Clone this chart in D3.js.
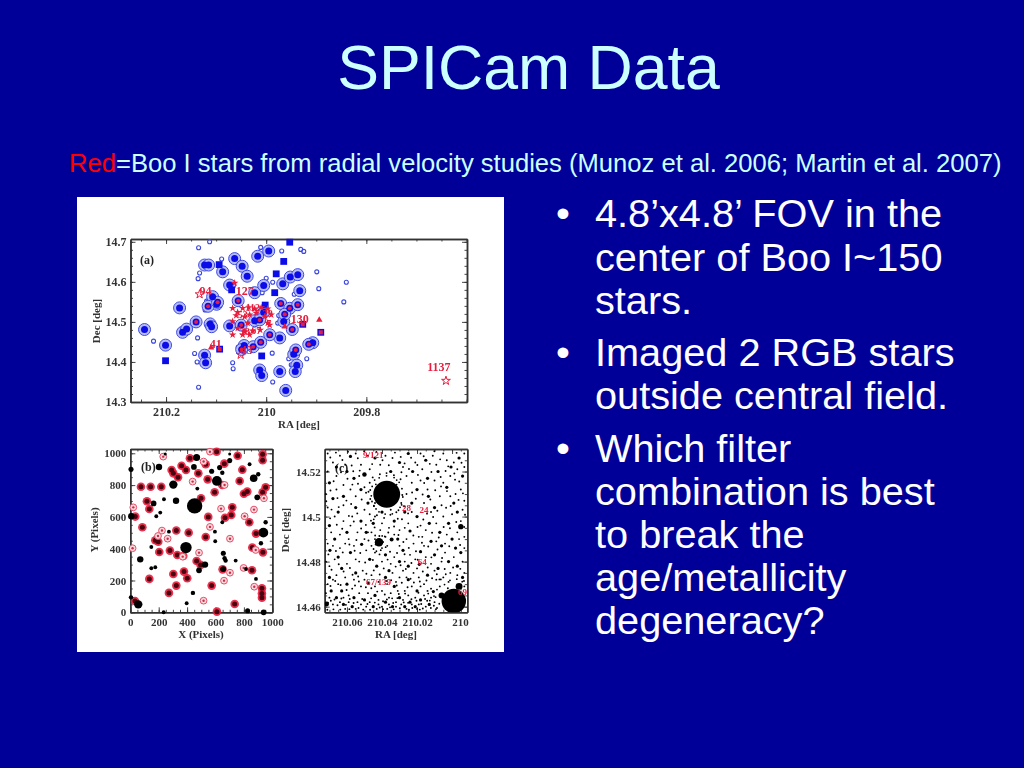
<!DOCTYPE html>
<html><head><meta charset="utf-8">
<script src="https://cdn.jsdelivr.net/npm/d3@7/dist/d3.min.js"></script>
<style>html,body{margin:0;padding:0;background:#000099;overflow:hidden}svg{display:block}</style>
</head><body>
<script>
const titleText = "SPICam Data";
const subtitleRed = "Red";
const subtitleRest = "=Boo I stars from radial velocity studies (Munoz et al. 2006; Martin et al. 2007)";
const bulletLines = [
 ["4.8’x4.8’ FOV in the","center of Boo I~150","stars."],
 ["Imaged 2 RGB stars","outside central field."],
 ["Which filter","combination is best","to break the","age/metallicity","degeneracy?"]
];
// Panel (a): [RA, Dec]
const aTickX = [210.2,210,209.8], aTickY = [14.3,14.4,14.5,14.6,14.7];
const aBlue = [[210.243,14.481],[210.201,14.442],[210.173,14.535],[210.167,14.474],[210.159,14.482],[210.123,14.417],[210.121,14.398],[210.123,14.642],[210.115,14.642],[210.087,14.625],[210.107,14.563],[210.099,14.544],[210.112,14.495],[210.109,14.488],[210.073,14.592],[210.073,14.49],[210.063,14.658],[210.048,14.639],[210.038,14.614],[210.023,14.573],[210.017,14.664],[209.995,14.677],[210.005,14.591],[209.967,14.595],[209.952,14.612],[209.937,14.618],[209.933,14.578],[209.965,14.501],[209.907,14.448],[209.945,14.419],[209.939,14.392],[209.942,14.376],[209.973,14.376],[209.961,14.329],[210.013,14.38],[210.009,14.366],[210.044,14.441],[209.973,14.46],[210.023,14.503],[210.005,14.524]];
const aMember = [[210.14,14.5],[210.116,14.539],[210.097,14.549],[210.056,14.553],[209.971,14.546],[209.953,14.534],[209.937,14.543],[209.963,14.519],[209.948,14.481],[209.915,14.444],[209.941,14.43],[210.049,14.431],[210.026,14.438],[210.011,14.449],[209.993,14.468],[210.05,14.492],[210.013,14.505]];
const aSquare = [[210.094,14.643],[209.983,14.573],[209.98,14.62],[209.965,14.651],[209.953,14.699],[210.009,14.415],[210.002,14.542],[210.201,14.403],[210.069,14.58]];
const aSquareMember = [[209.927,14.494],[209.891,14.474],[210.093,14.432]];
const aFaint = [[210.225,14.452],[210.137,14.46],[210.143,14.421],[210.138,14.4],[210.135,14.337],[210.135,14.685],[210.113,14.7],[210.089,14.657],[210.133,14.622],[210.136,14.608],[210.067,14.398],[210.066,14.383],[210.056,14.437],[209.987,14.35],[209.988,14.422],[209.955,14.408],[209.95,14.393],[209.919,14.408],[209.895,14.583],[209.899,14.625],[209.84,14.599],[209.845,14.55],[210.011,14.686],[209.969,14.677],[209.931,14.681],[209.925,14.676],[210,14.609],[209.987,14.599],[210.008,14.573],[209.944,14.569],[210.119,14.552],[210.122,14.53],[209.975,14.516],[209.977,14.497]];
const aRedStars = [[210.063,14.597],[210.067,14.534],[210.057,14.524],[210.047,14.534],[210.035,14.536],[210.023,14.533],[210.01,14.536],[209.997,14.533],[209.99,14.518],[210.06,14.516],[210.043,14.513],[210.033,14.518],[210.02,14.522],[210.003,14.513],[209.997,14.497],[210.067,14.501],[210.057,14.484],[210.043,14.476],[210.027,14.478],[210.012,14.48],[210.067,14.468],[210.047,14.468],[210.033,14.468],[209.993,14.492],[210.037,14.497]];
const aRedTriangles = [[209.894,14.505],[210.11,14.436],[209.963,14.488]];
const aOpenStars = [[209.641,14.353],[210.133,14.569],[210.051,14.418]];
const aLabels = [["94",210.121,14.576],["127",210.043,14.576],["130",209.933,14.507],["41",210.101,14.444],["43",210.039,14.428],["1137",209.655,14.387]];
const aSmallLabels = [["112",210.027,14.534],["29",209.997,14.519],["53",210.047,14.518],["67",210.02,14.478],["38",210.043,14.476],["7",209.995,14.495]];
// Panel (b): [X, Y] in pixels of the CCD, third value = flux
const bTickX = [0,200,400,600,800,1000], bTickY = [0,200,400,600,800,1000];
const bBlack = [[453,669,56],[392,407,30],[937,501,22],[56,50,16],[467,973,11],[303,803,16],[610,826,22],[869,843,13],[526,300,9],[70,333,9],[322,702,9],[164,685,7],[5,899,5.5],[202,914,9],[7,604,9],[448,914,7],[573,887,5.5],[629,910,5.5],[700,954,5.5],[700,996,1.7],[648,878,4],[840,931,3],[901,868,4],[894,723,7],[472,778,3],[237,711,3],[183,604,3],[211,627,3],[272,507,3],[148,411,3],[148,277,3],[176,283,3],[596,507,3],[598,447,3],[648,566,3],[655,371,5.5],[664,340,4],[671,325,4],[742,325,3],[815,272,3],[885,210,3],[953,566,4],[920,434,4],[441,122,4],[397,57,3],[235,0,3],[5,94,4],[826,10,5.5],[939,0,7],[484,264,7],[655,272,7],[246,996,1.7]];
const bMembers = [[75,790],[143,790],[218,790],[117,698],[134,650],[35,602],[85,535],[176,453],[197,444],[204,379],[279,388],[324,514],[411,501],[331,360],[373,354],[303,241],[324,168],[272,122],[134,210],[378,256],[401,214],[467,323],[495,298],[573,168],[531,474],[549,600],[498,717],[420,969],[361,922],[392,895],[291,895],[303,874],[336,849],[479,874],[531,931],[545,836],[594,755],[648,801],[662,935],[756,985],[789,897],[770,826],[800,746],[824,759],[932,994],[932,956],[953,786],[932,755],[718,660],[711,612],[667,595],[838,566],[885,495],[859,407],[934,377],[857,264],[927,151],[927,119],[927,92],[735,52],[610,4],[650,270],[33,71],[608,1010]];
const bOpenRings = [[232,979],[439,822],[21,660],[223,514],[195,480],[263,463],[561,537],[639,652],[871,646],[805,604],[702,463],[484,375],[883,392],[798,279],[702,249],[660,199],[873,161],[516,73],[941,717],[664,801],[16,403],[369,350],[561,1010],[516,948]];
// Panel (c): [mdeg east of RA 210, mdeg north of Dec 14.46], third value = flux
const cTickX = [210.06,210.04,210.02,210], cTickY = [14.46,14.48,14.5,14.52];
const cBlobs = [[37.3,49.9,180],[-1,2.5,150],[41.7,28.6,18],[-5,35.5,7],[50,58.7,5],[34.5,29.8,4],[71.6,1.2,6],[6,5,9],[-4,9,12]];
const cMid = [[62,49],[56,57],[22.5,60],[0.6,62],[13.5,49],[24,33.6],[30,20],[18,24.4],[18.7,18.8],[6,27],[10.7,6.7],[51.6,27.7],[69.7,25],[47.8,10.4],[58,66.7],[66,62],[70,55],[60,60],[44,66],[30,64],[25,68],[15,65],[8,60],[-4,66],[-6,58],[3,53],[-1,46],[20,52],[10,44],[-3,42],[2,37],[13,37],[20,40],[27,42],[33,38],[45,37],[55,44],[65,42],[70,36],[60,33],[52,38],[48,46],[68,48],[58,24],[63,17],[70,13],[60,10],[55,15],[43,18],[38,13],[33,9],[25,12],[20,7],[14,14],[8,17],[2,20],[-3,18],[-5,24],[0,30],[12,29],[28,25],[38,23],[47,21],[56,4],[50,3],[44,5],[38,2],[30,4],[24,2],[18,3],[13,1],[66,4],[62,1],[57,0],[69,7],[63,7],[45,0],[34,0],[27,0],[21,0],[67,30],[40,42],[23,46],[7,33],[-6,13],[-2,26],[14,57],[35,60],[52,52],[65,22],[49,33],[36,16],[25,18],[31,30],[10,23]];
const cFaint = [[71,68],[68,64],[64,67],[61,63],[55,68],[52,63],[48,67],[47,61],[41,63],[38,67],[34,66],[28,62],[26,58],[21,64],[18,68],[17,61],[11,67],[9,63],[5,68],[3,65],[-1,64],[-3,61],[-7,68],[-7,62],[1,58],[5,55],[10,56],[14,52],[18,56],[23,55],[26,50],[-5,52],[-7,47],[-2,50],[7,49],[16,46],[23,42],[29,46],[25,37],[30,34],[36,35],[40,37],[44,40],[41,34],[47,41],[50,43],[57,40],[62,38],[67,40],[71,44],[72,50],[66,52],[62,54],[58,52],[53,58],[50,53],[47,55],[66,58],[71,60],[62,45],[55,49],[58,36],[54,33],[50,30],[46,27],[37,27],[30,27],[26,30],[22,28],[17,31],[15,34],[9,37],[5,40],[0,41],[-5,38],[-7,31],[-3,33],[3,32],[9,29],[4,24],[-1,22],[-6,20],[-7,15],[-3,14],[1,15],[5,13],[9,12],[12,19],[15,22],[21,21],[24,23],[27,20],[33,22],[35,19],[40,20],[44,24],[49,25],[53,20],[56,27],[61,28],[64,32],[69,33],[71,28],[67,21],[72,20],[60,19],[55,21],[51,16],[46,14],[42,11],[39,17],[34,15],[30,13],[28,16],[22,15],[19,13],[16,10],[12,8],[7,9],[2,11],[23,9],[27,7],[31,7],[35,6],[40,7],[44,9],[52,9],[57,8],[61,13],[66,14],[70,18],[65,10],[71,10],[68,12],[62,4],[59,5],[53,6],[48,6],[42,3],[36,4],[32,2],[28,3],[25,5],[21,4],[16,5],[12,4],[15,0],[19,1],[23,1],[26,-1],[29,1],[32,0],[36,1],[40,0],[42,1],[47,2],[49,0],[52,1],[54,2],[59,2],[64,2],[68,1],[70,4],[72,6],[61,-1],[55,-1],[43,-1],[37,-1],[20,-1],[44,46],[41,47],[48,33],[35,43],[31,39],[18,36],[12,42],[6,45],[-6,43],[1,49],[16,27],[19,31],[4,28],[-4,30],[-7,26],[27,35],[38,31],[44,30],[33,32],[40,26],[46,33],[59,30],[64,26],[68,27],[56,12],[50,12],[37,10],[32,11],[26,13],[20,17],[10,16],[6,20],[0,6],[-7,9],[10,2],[14,7],[18,9]];
const cFaintMore = [[69.5,66.2],[66.3,68.4],[62.6,65.1],[59.4,68.8],[57.3,62.7],[53.8,65.9],[50.2,69],[45.6,63.3],[43.2,68.7],[39.7,65],[36.1,62.8],[32.6,68.4],[29.3,66.5],[27.1,63.6],[23.4,66.1],[19.8,62.9],[16.2,66.8],[12.7,63.4],[10.1,69],[6.8,65.4],[2.2,62.3],[-2.6,68.3],[-5.4,63.9],[-1.3,59.1],[3.7,60.2],[6.5,57.6],[11.8,59.8],[15.9,54.9],[19.5,58.5],[24.6,61.1],[29.4,56.6],[31.7,54.2],[28.4,49.6],[27.4,44.6],[25.1,41.4],[28.6,38.8],[31.8,41.9],[35.2,40.8],[38.8,39.4],[42.9,40.6],[46.3,38.2],[49.2,36.3],[44.2,35.2],[41.5,31.4],[36.4,32.9],[33.1,35.6],[30.6,31.8],[27.8,28.7],[24.7,26.1],[22.1,31.6],[19.7,35.4],[16.4,38.7],[14.3,41.3],[10.8,39.8],[8.4,42.6],[3.4,43.9],[0.8,44.7],[-3.7,47.4],[-6.2,50.3],[-4.1,55.6],[-1.7,56.4],[2.9,51.3],[6.3,53.4],[9.6,51.7],[12.4,47.6],[16.8,49.8],[20.7,47.9],[22.8,50.7],[52.7,60.4],[56.4,60.1],[59.7,56.8],[63.4,59.7],[67.6,55.7],[69.4,51.6],[71.8,46.8],[65.4,48.2],[60.3,47.1],[57.6,45.6],[54.1,41.4],[51.6,47.6],[49.1,50.6],[46.7,51.8],[53.7,54.6],[56.9,54.2],[64.7,44.2],[68.8,43.1],[69.6,39.2],[65.8,36.4],[62.7,34.6],[58.9,40.3],[56.1,37.8],[54.6,29.6],[51.9,34.7],[47.7,29.4],[43.6,27.6],[39.4,28.7],[35.4,24.4],[31.4,23.8],[27.1,23.3],[23.2,19.4],[20.6,24.6],[17.2,28.4],[13.6,26.7],[11.4,32.8],[7.6,30.7],[4.8,35.4],[1.2,34.8],[-2.4,37.6],[-6.9,35.4],[-7.4,40.8],[-4.6,27.4],[1.6,26.8],[5.7,21.6],[8.3,25.4],[11.8,21.9],[13.9,17.4],[16.7,15.6],[19.6,20.8],[23.7,12.4],[26.4,16.7],[29.4,18.4],[32.2,17.8],[36.8,20.9],[41.4,23.2],[45.2,20.7],[49.6,19.6],[52.4,23.8],[55.6,24.8],[58.6,27.6],[62.4,24.1],[66.3,24.7],[70.6,23.2],[68.8,16.4],[64.7,18.8],[61.9,15.6],[58.3,17.2],[56.8,14.2],[53.6,13.4],[48.9,14.6],[44.7,16.1],[41.3,14.3],[37.6,11.4],[34.8,11.7],[31.6,9.4],[28.7,10.6],[25.4,8.6],[21.8,10.7],[18.4,11.2],[14.6,11.6],[11.4,12.6],[8.7,14.4],[4.2,16.7],[-0.6,17.4],[-4.7,16.8],[-6.8,11.4],[2.4,8.2],[7.2,12.1],[69.4,9.2],[66.7,11.4],[63.6,9.6],[60.2,7.4],[55.4,9.4],[53.2,11.2],[49.2,8.6],[46.1,8.2],[42.7,6.7],[38.4,5.4],[34.2,3.7],[30.4,5.6],[26.8,5.8],[23.2,3.3],[19.2,6.2],[15.4,3.4],[13.6,5.8],[10.3,4.7],[70.9,1.8],[69.2,2.6],[67.1,3.2],[65.4,0.6],[63.2,3.6],[60.6,0.8],[58.4,3.4],[56.2,1.6],[53.4,-0.6],[51.3,3.4],[48.3,1.2],[46.2,3.7],[44.1,1.8],[41.3,-0.4],[39.4,2.4],[37.2,3.2],[35.4,-0.3],[33.6,1.6],[31.2,3.8],[29.8,-0.7],[27.6,1.9],[25.1,1.7],[22.7,-0.6],[20.3,2.6],[17.6,1.2],[16.7,-0.8],[14.2,2.6],[12.1,-0.6],[10.4,0.4],[8.6,-0.6],[71.2,-1.4],[67.7,-1.2],[63.8,-1.3],[58.6,-1.1],[50.7,-1.3],[46.8,-1.4],[39.4,-1.1],[33.3,-1.2],[24.6,-1.4],[18.4,-1.3],[44.6,44.8],[46.7,47.8],[47.7,51],[45.3,57.4],[41.2,58.8],[37.4,59.3],[33.2,58.4],[28.9,59.7]];
const cHalo = [[46.1,49.2],[45.6,53.4],[44.2,56.2],[41.6,57.2],[37.4,58.1],[33.1,57.3],[30.2,55.2],[28.6,52.4],[28.1,48.7],[28.8,45.2],[30.6,42.8],[34.1,41.2],[38.2,41.1],[41.7,42.1],[44.6,44.6],[45.7,46.7],[43.5,54.3],[31.6,56.2],[29.7,44.1],[43.4,43.4],[44.7,38.8],[39.9,31.4],[37.9,26.4],[43.9,31.6],[44.8,25.6],[38.4,31.2],[40.7,25.1],[43.2,24.6],[6.4,12.1],[4.3,9.8],[8.6,7.6],[9.4,4.2],[7.3,1.3],[1.2,11.7],[-2.7,12.2],[-5.8,11.1],[3.6,14.4],[12.7,2.7],[9.2,-1.1]];
const cLabelData = [["9/121",45,67.5],["28",26,44],["24",16,43],["64",17,20],["67/139",42,11],["69",-6,6.5]];

// ---------- layout and styles ----------
const W=1024,H=768;
const svg=d3.select("body").append("svg").attr("width",W).attr("height",H).style("background","#000099");
const sans="'Liberation Sans',Arial,sans-serif", serif="'Liberation Serif',serif";
const ink="#333333", BLUE="#0c0ce8", PALE="#b6bdf6", RED="#e81c3c";

svg.append("text").attr("x",528.5).attr("y",88.5).attr("text-anchor","middle").attr("font-family",sans).attr("font-size",62.6).attr("fill","#ccffff").text(titleText);
const sub=svg.append("text").attr("x",69).attr("y",171.5).attr("font-family",sans).attr("font-size",25.6).attr("fill","#ccffff");
sub.append("tspan").attr("fill","#ff0000").text(subtitleRed);
sub.append("tspan").text(subtitleRest);

const lineBase=[[227,271,314],[366,409],[462,505,548,591,634]];
bulletLines.forEach((ls,i)=>{
  svg.append("text").attr("x",556).attr("y",lineBase[i][0]).attr("font-family",sans).attr("font-size",39.7).attr("fill","#fff").text("•");
  ls.forEach((t,j)=>svg.append("text").attr("x",595).attr("y",lineBase[i][j]).attr("font-family",sans).attr("font-size",39.7).attr("fill","#fff").text(t));
});

const defs=svg.append("defs");
defs.append("clipPath").attr("id","clipC").append("rect").attr("x",324.7).attr("y",449).attr("width",142.6).attr("height",163.3);
svg.append("rect").attr("x",77).attr("y",197).attr("width",427).attr("height",455).attr("fill","#fff");
const plate=svg.append("g").style("filter","blur(0.45px)");

function frame(x,y,o){
  const g=plate.append("g");
  const [x0,x1]=x.range(),[y0,y1]=y.range();
  const fs=o.fs||12;
  function axes(vals,size,labels,side){
    const ax=(side==="b"?d3.axisBottom(x):side==="t"?d3.axisTop(x):side==="l"?d3.axisLeft(y):d3.axisRight(y))
      .tickValues(vals).tickSizeOuter(0).tickSizeInner(-size).tickPadding(labels?(side==="b"?o.padX:o.padY):0)
      .tickFormat(labels?(o.fmt||(d=>d)):"");
    const tr=side==="b"?[0,y0]:side==="t"?[0,y1]:side==="l"?[x0,0]:[x1,0];
    const a=g.append("g").attr("transform",`translate(${tr})`).call(ax);
    a.selectAll(".domain").attr("stroke",ink).attr("stroke-width",1.5);
    a.selectAll("line").attr("stroke",ink).attr("stroke-width",0.9);
    a.selectAll("text").attr("font-family",serif).attr("font-size",fs).attr("font-weight","bold").attr("fill",ink);
    if(labels&&side==="b"&&o.lastDx) a.selectAll(".tick").filter(d=>d===vals[vals.length-1]).select("text").attr("dx",o.lastDx);
    return a;
  }
  axes(o.minorX,2.5,false,"b");axes(o.minorX,2.5,false,"t");
  axes(o.minorY,2.5,false,"l");axes(o.minorY,2.5,false,"r");
  axes(o.majorX,5,true,"b");axes(o.majorX,5,false,"t");
  axes(o.majorY,5,true,"l");axes(o.majorY,5,false,"r");
  g.append("text").attr("x",o.xlx).attr("y",o.xly).attr("text-anchor","middle").attr("font-family",serif).attr("font-size",11).attr("font-weight","bold").attr("fill",ink).text(o.xlabel);
  g.append("text").attr("transform",`translate(${o.ylx},${o.yly}) rotate(-90)`).attr("text-anchor","middle").attr("font-family",serif).attr("font-size",11).attr("font-weight","bold").attr("fill",ink).text(o.ylabel);
  g.append("text").attr("x",o.tagx).attr("y",o.tagy).attr("font-family",serif).attr("font-size",12).attr("font-weight","bold").attr("fill","#222").text(o.tag);
  return g;
}
function dots(sel,data,px,py,r,attrs){
  const s=sel.append("g").selectAll("circle").data(data).join("circle")
    .attr("cx",px).attr("cy",py).attr("r",r);
  Object.entries(attrs).forEach(([k,v])=>s.attr(k,v));
  return s;
}
const starPath=d3.symbol().type(d3.symbolStar), triPath=d3.symbol().type(d3.symbolTriangle);

// ---------- panel a ----------
const xA=d3.scaleLinear().domain([210.271,209.599]).range([130.5,467]);
const yA=d3.scaleLinear().domain([14.3,14.707]).range([402,239]);
frame(xA,yA,{majorX:aTickX,minorX:d3.range(209.6,210.26,0.05).map(v=>+v.toFixed(2)),majorY:aTickY,minorY:d3.range(14.3,14.701,0.02).map(v=>+v.toFixed(2)),
  padX:5,padY:4,fmt:d=>d3.format("")(d),xlabel:"RA [deg]",xlx:299,xly:428,ylabel:"Dec [deg]",ylx:100,yly:321,tag:"(a)",tagx:140,tagy:264});
const ga=plate.append("g");
const axp=d=>xA(d[0]),ayp=d=>yA(d[1]);
dots(ga,aFaint,axp,ayp,2,{fill:"#fff","fill-opacity":0,stroke:"#3a45e0","stroke-width":1.1});
dots(ga,aBlue.concat(aMember),axp,ayp,6,{fill:PALE,stroke:"#3f4ae0","stroke-width":1});
dots(ga,aBlue,axp,ayp,3.5,{fill:BLUE});
dots(ga,aMember,axp,ayp,3.5,{fill:BLUE});
ga.append("g").selectAll("rect").data(aSquare.concat(aSquareMember)).join("rect")
  .attr("x",d=>axp(d)-3.4).attr("y",d=>ayp(d)-3.4).attr("width",6.8).attr("height",6.8).attr("fill",BLUE);
dots(ga,aMember,axp,ayp,2,{fill:RED});
ga.append("g").selectAll("rect").data(aSquareMember).join("rect")
  .attr("x",d=>axp(d)-2).attr("y",d=>ayp(d)-2).attr("width",4).attr("height",4).attr("fill",RED);
ga.append("g").selectAll("path.s").data(aRedStars).join("path")
  .attr("transform",d=>`translate(${axp(d)},${ayp(d)})`).attr("d",starPath.size(18)()).attr("fill",RED);
ga.append("g").selectAll("path.t").data(aRedTriangles).join("path")
  .attr("transform",d=>`translate(${axp(d)},${ayp(d)})`).attr("d",triPath.size(18)()).attr("fill",RED);
ga.append("g").selectAll("path.o").data(aOpenStars).join("path")
  .attr("transform",d=>`translate(${axp(d)},${ayp(d)})`).attr("d",starPath.size(24)()).attr("fill","none").attr("stroke",RED).attr("stroke-width",1);
ga.append("g").selectAll("text").data(aLabels).join("text")
  .attr("x",d=>xA(d[1])).attr("y",d=>yA(d[2])+3.5).attr("text-anchor","middle").attr("font-family",serif).attr("font-weight","bold").attr("font-size",12).attr("fill",RED).text(d=>d[0]);
ga.append("g").selectAll("text").data(aSmallLabels).join("text")
  .attr("x",d=>xA(d[1])).attr("y",d=>yA(d[2])+3).attr("text-anchor","middle").attr("font-family",serif).attr("font-weight","bold").attr("font-size",10).attr("fill",RED).text(d=>d[0]);

// ---------- panel b ----------
const xB=d3.scaleLinear().domain([0,1000]).range([130.3,272.3]);
const yB=d3.scaleLinear().domain([0,1027]).range([612.3,449]);
const rB=d3.scaleSqrt().domain([0,100]).range([0,10]);
frame(xB,yB,{majorX:bTickX,minorX:d3.range(0,1001,50),majorY:bTickY,minorY:d3.range(0,1001,50),
  padX:6,padY:4,fs:11,xlabel:"X (Pixels)",xlx:201,xly:638,ylabel:"Y (Pixels)",ylx:98,yly:530,tag:"(b)",tagx:141,tagy:471});
const gb=plate.append("g");
const bxp=d=>xB(d[0]),byp=d=>yB(d[1]);
dots(gb,bMembers,bxp,byp,4.3,{fill:RED,"fill-opacity":0.9});
dots(gb,bMembers,bxp,byp,2.5,{fill:"#4a0410"});
dots(gb,bOpenRings,bxp,byp,3.4,{fill:"#fbd8dc",stroke:"#e2506a","stroke-width":1});
dots(gb,bOpenRings,bxp,byp,1.2,{fill:"#c83048"});
dots(gb,bBlack,bxp,byp,d=>rB(d[2])+0.2,{fill:"#000"});

// ---------- panel c ----------
const xC=d3.scaleLinear().domain([210.0727,209.9913]).range([324.7,467.3]);
const yC=d3.scaleLinear().domain([14.4575,14.53]).range([612.3,449]);
const rC=d3.scaleSqrt().domain([0,100]).range([0,10]);
frame(xC,yC,{majorX:cTickX,minorX:d3.range(209.995,210.071,0.005).map(v=>+v.toFixed(3)),majorY:cTickY,minorY:d3.range(14.46,14.5301,0.005).map(v=>+v.toFixed(3)),
  padX:6,padY:4,fs:11,fmt:d=>d,lastDx:8,xlabel:"RA [deg]",xlx:396,xly:638,ylabel:"Dec [deg]",ylx:289,yly:530,tag:"(c)",tagx:335,tagy:472});
const gc=plate.append("g").attr("clip-path","url(#clipC)");
const cxp=d=>xC(210+d[0]/1000),cyp=d=>yC(14.46+d[1]/1000);
dots(gc,cFaint.concat(cFaintMore),cxp,cyp,0.95,{fill:"#000"});
dots(gc,cHalo,cxp,cyp,0.9,{fill:"#000"});
dots(gc,cMid,cxp,cyp,1.6,{fill:"#000"});
dots(gc,cBlobs,cxp,cyp,d=>rC(d[2]),{fill:"#000"});
gc.append("g").selectAll("text").data(cLabelData).join("text")
  .attr("x",d=>cxp([d[1],d[2]])).attr("y",d=>cyp([d[1],d[2]])+3).attr("text-anchor","middle").attr("font-family",serif).attr("font-weight","bold").attr("font-size",9).attr("fill",RED).text(d=>d[0]);
</script>
</body></html>
